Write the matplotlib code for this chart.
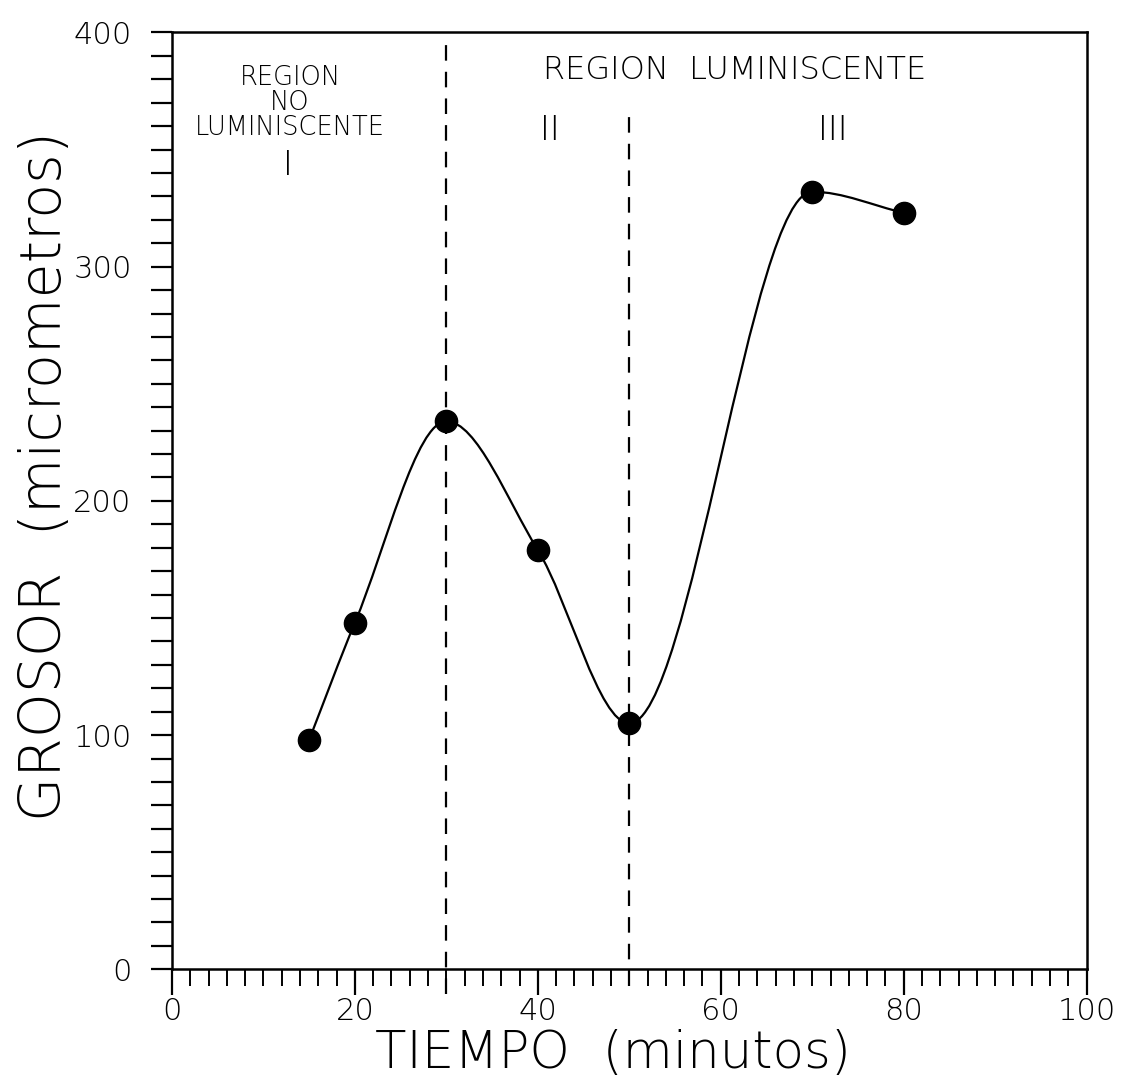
import matplotlib
matplotlib.use("Agg")
import matplotlib.pyplot as plt
import matplotlib.font_manager as fm
import matplotlib.patheffects as pe
from matplotlib.path import Path
from matplotlib.patches import PathPatch
from matplotlib.ticker import MultipleLocator
import numpy as np

# Data
tiempo = [15, 20, 30, 40, 50, 70, 80]
grosor = [98, 148, 234, 179, 105, 332, 323]
region_bounds = [30, 50]
xticks = [0, 20, 40, 60, 80, 100]
yticks = [0, 100, 200, 300, 400]

FONT = "DejaVu Sans"
light_available = any(
    f.name == FONT and f.weight in (200, "extra light", "ultralight", "light", 300)
    for f in fm.fontManager.ttflist
)
W = 200 if light_available else "normal"


def style(t, thin):
    if not light_available:
        t.set_path_effects([pe.Stroke(linewidth=thin, foreground="white")])
    return t


fig = plt.figure(figsize=(11.39, 10.83), dpi=100)
ax = fig.add_axes([0.151, 0.105, 0.803, 0.865])
ax.set_xlim(0, 100)
ax.set_ylim(0, 400)

# smooth monotone curve through the points (Fritsch-Carlson tangents as cubic Bezier)
x = np.array(tiempo, float)
y = np.array(grosor, float)
n = len(x)
h = np.diff(x)
d = np.diff(y) / h
m = np.zeros(n)
m[0], m[-1] = d[0], d[-1]
for i in range(1, n - 1):
    if d[i - 1] * d[i] <= 0:
        m[i] = 0.0
    else:
        w1 = 2 * h[i] + h[i - 1]
        w2 = h[i] + 2 * h[i - 1]
        m[i] = (w1 + w2) / (w1 / d[i - 1] + w2 / d[i])
verts = [(x[0], y[0])]
codes = [Path.MOVETO]
for i in range(n - 1):
    c1 = (x[i] + h[i] / 3, y[i] + m[i] * h[i] / 3)
    c2 = (x[i + 1] - h[i] / 3, y[i + 1] - m[i + 1] * h[i] / 3)
    verts += [c1, c2, (x[i + 1], y[i + 1])]
    codes += [Path.CURVE4] * 3
ax.add_patch(PathPatch(Path(verts, codes), fill=False, lw=1.6, color="black"))
ax.plot(tiempo, grosor, "o", color="black", ms=16, zorder=5)

# region dividers
ax.axvline(region_bounds[0], ymin=-0.026, ymax=0.99, color="black", ls=(0, (7, 5)), lw=1.6, clip_on=False)
ax.axvline(region_bounds[1], ymin=-0.018, ymax=0.922, color="black", ls=(0, (7, 5)), lw=1.6, clip_on=False)

# annotations
style(ax.text(12.9, 370, "REGION\nNO\nLUMINISCENTE", ha="center", va="center",
              fontsize=18.5, family=FONT, weight=W, linespacing=1.0), 0.9)
style(ax.text(12.7, 343, "I", ha="center", va="center", fontsize=24, family=FONT, weight=W), 1.0)
style(ax.text(61.5, 384, "REGION  LUMINISCENTE", ha="center", va="center",
              fontsize=23, family=FONT, weight=W), 1.0)
style(ax.text(41.3, 358, "II", ha="center", va="center", fontsize=24, family=FONT, weight=W), 1.0)
style(ax.text(72.2, 358, "III", ha="center", va="center", fontsize=24, family=FONT, weight=W), 1.0)

# ticks
ax.set_xticks(xticks)
ax.set_yticks(yticks)
ax.xaxis.set_minor_locator(MultipleLocator(2))
ax.yaxis.set_minor_locator(MultipleLocator(10))
ax.tick_params(axis="x", which="major", direction="out", length=19, width=1.6, pad=1)
ax.tick_params(axis="x", which="minor", direction="out", length=12, width=1.4)
ax.tick_params(axis="y", which="both", direction="out", length=15, width=1.6, pad=14)
for lab in ax.get_xticklabels() + ax.get_yticklabels():
    lab.set_fontfamily(FONT)
    lab.set_fontweight(W)
    lab.set_fontsize(22)
    style(lab, 0.7)
for s in ax.spines.values():
    s.set_linewidth(1.8)

ax.set_xlabel("TIEMPO  (minutos)", fontsize=37, family=FONT, weight=W, va="baseline")
ax.xaxis.set_label_coords(0.482, -0.1057)
style(ax.xaxis.label, 1.8)
ax.set_ylabel("GROSOR  (micrometros)", fontsize=41, family=FONT, weight=W,
              va="baseline", ha="center", rotation_mode="anchor")
ax.yaxis.set_label_coords(-0.121, 0.527)
style(ax.yaxis.label, 2.0)

fig.savefig("out.png", dpi=100)
